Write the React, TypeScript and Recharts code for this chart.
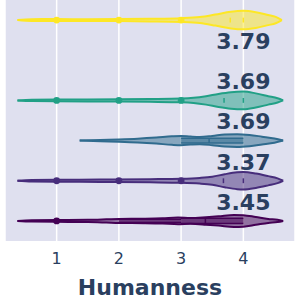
import { ComposedChart, Area, Scatter, XAxis, YAxis, CartesianGrid, ReferenceLine } from 'recharts';

// x ticks of the Humanness axis
const xTicks = [1, 2, 3, 4];

// vertical slot of each group (6 slots, one left empty)
const rowPos = [5.5, 3.5, 2.5, 1.5, 0.5];
const meanLabels = ['3.79', '3.69', '3.69', '3.37', '3.45'];
const labelPos = [5, 4, 3, 2, 1];

// kernel density: [humanness, density]
const kdeYellow = [
  [0.37, 0], [0.6, 0.9], [1, 1], [1.5, 0.9], [2, 1], [2.5, 1.3], [3, 1.9], [3.3, 3], [3.55, 5.5],
  [3.8, 8.3], [4, 9.2], [4.2, 7.8], [4.4, 5], [4.52, 3.2], [4.62, 0],
];
const kdeTeal = [
  [0.37, 0], [0.6, 0.7], [1, 0.9], [2, 1.1], [2.5, 1.4], [3, 1.9], [3.2, 2.6], [3.4, 4.2], [3.6, 6.5],
  [3.8, 8.2], [4, 8.8], [4.2, 7], [4.4, 4.2], [4.55, 2.1], [4.64, 0],
];
const kdeBlue = [
  [1.37, 0], [1.7, 0.7], [2, 1.2], [2.3, 1.9], [2.6, 3], [2.85, 4.2], [3, 4.6], [3.15, 4], [3.3, 3.6],
  [3.5, 4.6], [3.7, 6], [3.9, 6.4], [4.1, 5.6], [4.3, 3.9], [4.5, 2.1], [4.64, 0],
];
const kdePurple = [
  [0.37, 0], [0.6, 0.7], [1, 0.9], [1.7, 1.2], [2.5, 1.6], [3, 2], [3.3, 2.8], [3.5, 4], [3.7, 6.5],
  [3.9, 8.4], [4, 8.7], [4.2, 7.2], [4.4, 4.6], [4.55, 2.4], [4.64, 0],
];
const kdeDark = [
  [0.37, 0], [0.6, 0.7], [1, 0.9], [1.5, 1.1], [1.8, 1.6], [2, 2], [2.4, 2.2], [2.7, 2.6], [2.95, 3.3],
  [3.15, 2.9], [3.4, 3.7], [3.6, 4.6], [3.85, 6], [4, 5.7], [4.2, 3.9], [4.4, 2], [4.55, 1.1], [4.64, 0],
];

// single points drawn on the thin tails
const dotsYellow = [1, 2, 3];
const dotsTeal = [1, 2, 3];
const dotsBlue: number[] = [];
const dotsPurple = [1, 2, 3];
const dotsDark = [1];

// inner box [q1, q3], median, thin marks
const boxBlue = [3, 4];
const medBlue = 3.45;
const boxDark = [3, 4];
const medDark = 3.39;
const whiskerDark = [2, 3];
const marksYellow = [3.79, 4];
const marksTeal = [3.69, 4];
const marksPurple = [3.68, 4];

const SCALE = 0.025;
const INK = '#2a3f5f';

const series = [
  { kde: kdeYellow, dots: dotsYellow, marks: marksYellow, stroke: '#fde725', fill: '#fde725' },
  { kde: kdeTeal, dots: dotsTeal, marks: marksTeal, stroke: '#21a086', fill: '#21a086' },
  { kde: kdeBlue, dots: dotsBlue, marks: [] as number[], stroke: '#306b8e', fill: '#306b8e' },
  { kde: kdePurple, dots: dotsPurple, marks: marksPurple, stroke: '#472d7b', fill: '#472d7b' },
  { kde: kdeDark, dots: dotsDark, marks: [] as number[], stroke: '#440154', fill: '#440154' },
];

const band = (pts: number[][], c: number) =>
  pts.map(([x, d]) => ({ x, r: [c - d * SCALE, c + d * SCALE] }));

const rect = (span: number[], c: number, h: number) =>
  span.map((x) => ({ x, r: [c - h, c + h] }));

const labelData = meanLabels.map((t, i) => ({ x: 4, y: labelPos[i], t }));

export default function App() {
  return (
    <div style={{ width: 300, height: 300, background: '#fff' }}>
      <style>{'body{margin:0}'}</style>
      <ComposedChart
        width={300}
        height={300}
        margin={{ top: 0, right: 5, left: 5, bottom: 0 }}
        style={{ fontFamily: 'DejaVu Sans' }}
      >
        <CartesianGrid horizontal={false} stroke="#ffffff" strokeWidth={1.5} fill="#dfe0ef" fillOpacity={1} />
        <XAxis
          dataKey="x"
          type="number"
          domain={[0.17, 4.83]}
          ticks={xTicks}
          allowDataOverflow
          axisLine={false}
          tickLine={false}
          tickSize={0}
          tickMargin={12}
          height={59}
          tick={{ fill: INK, fontSize: 16 }}
          label={{ value: 'Humanness', position: 'insideBottom', offset: 5, fill: INK, fontSize: 22, fontWeight: 'bold' }}
        />
        <YAxis type="number" domain={[0, 6]} hide allowDataOverflow />
        {series.map((s, i) => (
          <Area
            key={'v' + i}
            data={band(s.kde, rowPos[i])}
            dataKey="r"
            type="monotone"
            stroke={s.stroke}
            strokeWidth={2}
            fill={s.fill}
            fillOpacity={0.5}
            isAnimationActive={false}
            dot={false}
            activeDot={false}
          />
        ))}
        <Area data={rect(whiskerDark, rowPos[4], 0.04)} dataKey="r" type="linear" stroke="#440154" strokeWidth={1.5}
          fill="#440154" fillOpacity={0.5} isAnimationActive={false} dot={false} activeDot={false} />
        <Area data={rect(boxDark, rowPos[4], 0.065)} dataKey="r" type="linear" stroke="#440154" strokeWidth={1.5}
          fill="#440154" fillOpacity={0.5} isAnimationActive={false} dot={false} activeDot={false} />
        <Area data={rect(boxBlue, rowPos[2], 0.06)} dataKey="r" type="linear" stroke="#306b8e" strokeWidth={1.5}
          fill="#306b8e" fillOpacity={0.5} isAnimationActive={false} dot={false} activeDot={false} />
        <ReferenceLine segment={[{ x: medBlue, y: rowPos[2] - 0.06 }, { x: medBlue, y: rowPos[2] + 0.06 }]} stroke="#306b8e" strokeWidth={1.5} />
        <ReferenceLine segment={[{ x: medDark, y: rowPos[4] - 0.065 }, { x: medDark, y: rowPos[4] + 0.065 }]} stroke="#440154" strokeWidth={1.5} />
        {series.flatMap((s, i) =>
          s.marks.map((m, j) => (
            <ReferenceLine
              key={'m' + i + '-' + j}
              segment={[{ x: m, y: rowPos[i] - 0.06 }, { x: m, y: rowPos[i] + 0.06 }]}
              stroke={s.stroke}
              strokeWidth={1.5}
            />
          ))
        )}
        {series.map((s, i) => (
          <Scatter
            key={'d' + i}
            data={s.dots.map((x) => ({ x, y: rowPos[i] }))}
            dataKey="y"
            isAnimationActive={false}
            shape={(p: any) => <circle cx={p.cx} cy={p.cy} r={3.4} fill={s.stroke} />}
          />
        ))}
        <Scatter
          data={labelData}
          dataKey="y"
          isAnimationActive={false}
          shape={(p: any) => (
            <text x={p.cx} y={p.cy + 1} dy="0.36em" textAnchor="middle" fontSize={22} fontWeight="bold" fill={INK}>
              {p.payload.t}
            </text>
          )}
        />
      </ComposedChart>
    </div>
  );
}
